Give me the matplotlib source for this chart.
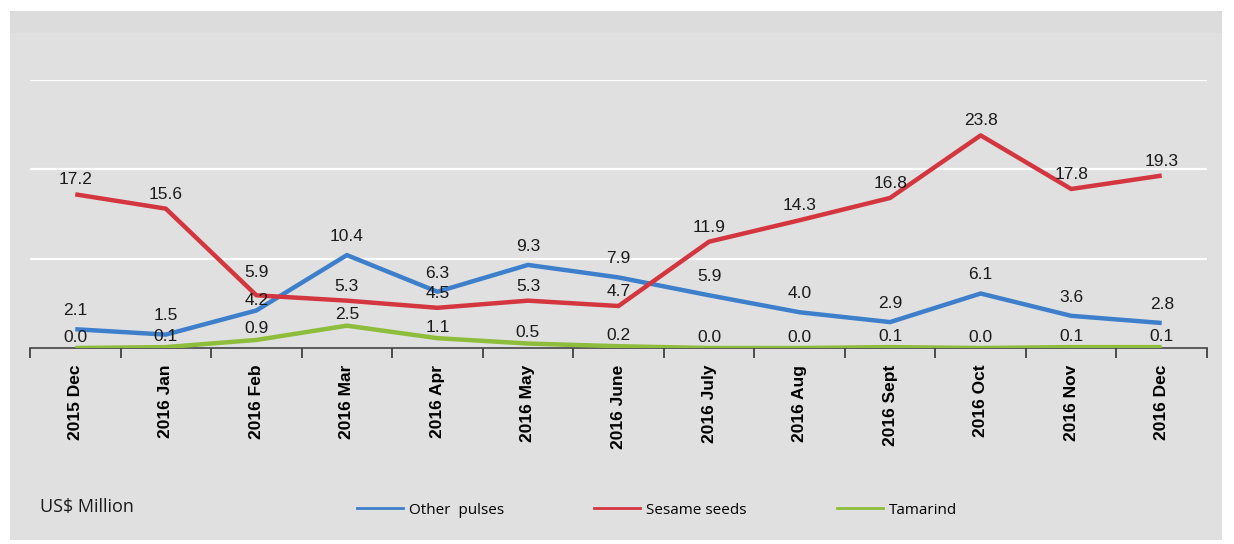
import matplotlib.pyplot as plt
from matplotlib.patches import Rectangle
from matplotlib.lines import Line2D
import numpy as np

plt.rcParams['font.family'] = ['Liberation Sans', 'DejaVu Sans']

months = ['2015 Dec', '2016 Jan', '2016 Feb', '2016 Mar', '2016 Apr', '2016 May',
          '2016 June', '2016 July', '2016 Aug', '2016 Sept', '2016 Oct', '2016 Nov', '2016 Dec']
other_pulses = [2.1, 1.5, 4.2, 10.4, 6.3, 9.3, 7.9, 5.9, 4.0, 2.9, 6.1, 3.6, 2.8]
sesame_seeds = [17.2, 15.6, 5.9, 5.3, 4.5, 5.3, 4.7, 11.9, 14.3, 16.8, 23.8, 17.8, 19.3]
tamarind = [0.0, 0.1, 0.9, 2.5, 1.1, 0.5, 0.2, 0.0, 0.0, 0.1, 0.0, 0.1, 0.1]

# name, values, colour, label offset (points)
series = [('Other  pulses', other_pulses, '#3d7fcb', 8),
          ('Sesame seeds', sesame_seeds, '#d4363f', 5),
          ('Tamarind', tamarind, '#8dbd3b', 2.5)]
# a few labels sit differently to avoid clashing
nudge = {('Sesame seeds', 2): 11, ('Other  pulses', 2): 2}

W, H = 1234, 544
fig = plt.figure(figsize=(W / 100, H / 100), dpi=100)
fig.patch.set_facecolor('white')

# gray panel behind everything
fig.patches.append(Rectangle((10 / W, 1 - 540 / H), 1212 / W, 529 / H,
                             transform=fig.transFigure, facecolor='#dcdcdc',
                             edgecolor='none', zorder=-10))
fig.patches.append(Rectangle((10 / W, 1 - 540 / H), 1212 / W, (540 - 33) / H,
                             transform=fig.transFigure, facecolor='#e0e0e0',
                             edgecolor='none', zorder=-9))

ax = fig.add_axes([30 / W, 1 - 348 / H, (1207 - 30) / W, (348 - 80) / H])
ax.set_facecolor('none')

x = np.arange(len(months))
for name, vals, col, off in series:
    ax.plot(x, vals, color=col, lw=3.2, solid_capstyle='butt', zorder=3)
    for xi, v in zip(x, vals):
        o = nudge.get((name, xi), off)
        ax.annotate(f'{v:.1f}', (xi, v), xytext=(0, o), textcoords='offset points',
                    ha='center', va='bottom', fontsize=12.5, color='#1a1a1a', zorder=4)

ax.set_xlim(-0.5, len(months) - 0.5)
ax.set_ylim(0, 30)
ax.set_yticks([10, 20, 30])
ax.yaxis.grid(True, color='white', lw=1.6)
ax.tick_params(axis='y', length=0, labelleft=False)

ax.set_xticks(x)
ax.set_xticklabels(months, rotation=90, fontsize=12.5, fontweight='bold')
ax.set_xticks(np.arange(-0.5, len(months)), minor=True)
ax.tick_params(axis='x', which='major', length=0, pad=12)
ax.tick_params(axis='x', which='minor', length=7, width=1.2, color='#333333', direction='out')

for s in ['top', 'right', 'left']:
    ax.spines[s].set_visible(False)
ax.spines['bottom'].set_color('#444444')
ax.spines['bottom'].set_linewidth(1.2)

fig.text(40 / W, 1 - 507 / H, 'US$ Million', fontsize=13, va='center', ha='left',
         family=['Open Sans', 'DejaVu Sans'], color='#1a1a1a')

handles = [Line2D([], [], color=c, lw=2) for _, _, c, _ in series]
fig.legend(handles, [s[0] for s in series], loc='center left',
           bbox_to_anchor=(357 / W, 1 - 510 / H), ncol=3, frameon=False,
           borderpad=0, borderaxespad=0,
           handlelength=3.0, columnspacing=5.9, handletextpad=0.4,
           prop={'family': ['Open Sans', 'DejaVu Sans'], 'size': 11})

fig.savefig('out.png', dpi=100)
